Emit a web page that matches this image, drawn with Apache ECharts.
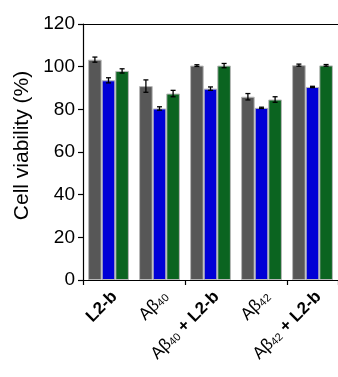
<!DOCTYPE html>
<html><head><meta charset="utf-8">
<script src="https://cdn.jsdelivr.net/npm/echarts@6/dist/echarts.min.js"></script>
<style>html,body{margin:0;padding:0;background:#fff}#c{width:338px;height:377px}</style>
</head><body><div id="c"></div>
<script>
var categories = ['L2-b', 'Ab40', 'Ab40+L2-b', 'Ab42', 'Ab42+L2-b'];
var grayValues = [103.3, 90.9, 100.5, 85.9, 100.7];
var grayErrors = [1.2, 2.9, 0.4, 1.5, 0.5];
var blueValues = [93.6, 80.4, 89.7, 80.7, 90.5];
var blueErrors = [1.2, 0.8, 0.8, 0.3, 0.3];
var greenValues = [98.0, 87.4, 100.5, 84.6, 100.6];
var greenErrors = [1.0, 1.5, 1.0, 1.3, 0.4];
var yTicks = [0, 20, 40, 60, 80, 100, 120];

var labelMap = {
  'L2-b': '{b|L2-b}',
  'Ab40': '{n|Aβ}{s|40}',
  'Ab40+L2-b': '{n|Aβ}{s|40}{b| + L2-b}',
  'Ab42': '{n|Aβ}{s|42}',
  'Ab42+L2-b': '{n|Aβ}{s|42}{b| + L2-b}'
};
var richStyles = {
  b: { fontFamily: 'Liberation Sans', fontWeight: 'bold', fontSize: 17, fill: '#000', color: '#000' },
  n: { fontFamily: 'Liberation Sans', fontSize: 17, fill: '#000', color: '#000' },
  s: { fontFamily: 'Liberation Sans', fontSize: 11, fill: '#000', color: '#000', verticalAlign: 'bottom' }
};

var colors = ['#575757', '#0000d6', '#0b6420'];
var seriesVals = [grayValues, blueValues, greenValues];
var seriesErrs = [grayErrors, blueErrors, greenErrors];

function barSeries(i) {
  var s = {
    type: 'bar', data: seriesVals[i], barGap: '0%', barCategoryGap: '20%',
    itemStyle: { color: colors[i], borderColor: '#b8b8b8', borderWidth: 1 },
    silent: true, animation: false
  };
  if (i === 0) {
    s.markLine = { silent: true, symbol: 'none', label: { show: false },
      lineStyle: { color: '#000', width: 1.2, type: 'solid' }, data: [{ yAxis: 120 }] };
  }
  return s;
}
function errSeries(i) {
  var data = seriesVals[i].map(function (v, k) { return [k, v, seriesErrs[i][k]]; });
  return {
    type: 'custom', data: data, z: 10, animation: false, silent: true,
    renderItem: function (params, api) {
      var k = api.value(0), v = api.value(1), e = api.value(2);
      var catW = api.size([1, 0])[0];
      var bw = catW * 0.8 / 3;
      var cx = api.coord([k, v])[0] + (i - 1) * bw;
      var yt = api.coord([k, v + e])[1];
      var yb = api.coord([k, v - e])[1];
      var hw = 2.5;
      var st = { stroke: '#000', lineWidth: 1.3 };
      return { type: 'group', children: [
        { type: 'line', shape: { x1: cx, y1: yt, x2: cx, y2: yb }, style: st },
        { type: 'line', shape: { x1: cx - hw, y1: yt, x2: cx + hw, y2: yt }, style: st },
        { type: 'line', shape: { x1: cx - hw, y1: yb, x2: cx + hw, y2: yb }, style: st }
      ]};
    }
  };
}
var labelSeries = {
  type: 'custom', clip: false, z: 20, animation: false, silent: true,
  data: categories.map(function (c, k) { return [k, 0]; }),
  renderItem: function (params, api) {
    var k = api.value(0);
    var p = api.coord([k, 0]);
    return {
      type: 'text', x: p[0] + 6, y: p[1] + 14, rotation: Math.PI / 4,
      style: {
        text: labelMap[categories[k]], rich: richStyles,
        align: 'right', verticalAlign: 'middle', fill: '#000',
        fontFamily: 'Liberation Sans', fontSize: 17
      }
    };
  }
};

var chart = echarts.init(document.getElementById('c'), null, { renderer: 'canvas' });
chart.setOption({
  animation: false,
  grid: { left: 83, top: 24, width: 257, bottom: 97 },
  xAxis: {
    type: 'category', data: categories,
    axisLine: { lineStyle: { color: '#000', width: 1.2 } },
    axisTick: { show: true, length: 5, alignWithLabel: false, lineStyle: { color: '#000', width: 1.2 } },
    axisLabel: { show: false }
  },
  yAxis: {
    type: 'value', min: 0, max: 120, interval: 20,
    name: 'Cell viability (%)', nameLocation: 'middle', nameGap: 50,
    nameTextStyle: { fontFamily: 'Liberation Sans', fontSize: 21, color: '#000', padding: [0, 0, 0, 13] },
    axisLine: { show: true, lineStyle: { color: '#000', width: 1.2 } },
    axisTick: { show: true, length: 5, lineStyle: { color: '#000', width: 1.2 } },
    axisLabel: {
      margin: 8, color: '#000', fontFamily: 'Liberation Sans', fontSize: 19,
      formatter: function (v) { return yTicks.indexOf(v) >= 0 ? String(v) : ''; }
    },
    splitLine: { show: false }
  },
  series: [barSeries(0), barSeries(1), barSeries(2), errSeries(0), errSeries(1), errSeries(2), labelSeries]
});
</script></body></html>
